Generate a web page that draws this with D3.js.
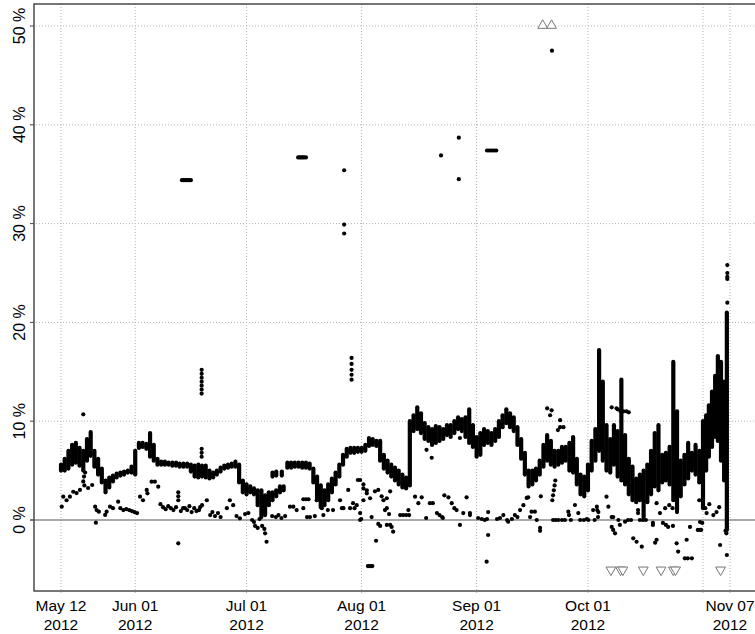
<!DOCTYPE html>
<html>
<head>
<meta charset="utf-8">
<script src="https://cdn.jsdelivr.net/npm/d3@7"></script>
<style>
  body { margin: 0; background: #fff; }
  text { font-family: "Liberation Sans", Arial, sans-serif; fill: #000; }
</style>
</head>
<body>
<svg id="chart"></svg>
<script>
// ---- data (days counted from 2012-05-12, values in %) ----
var startDay = "2012-05-12";

// dense main series, drawn as min..max per time step
var bandDay = [0,1,2,3,4,5,6,7,8,9,10,11,12,13,14,15,16,17,18,19,
  20,21,22,23,24,25,26,27,28,29,30,31,32,33,34,35,36,37,38,39,
  40,41,42,43,44,45,46,47,48,49,50,51,52,53,54,55,56,57,58,59,60,57,58,59.5,
  61,62,63,64,65,66,67,68,69,70,71,72,73,74,75,76,77,78,79,
  80,81,82,83,84,85,86,87,88,89,90,91,92,93,94,95,96,97,98,99,
  100,101,102,103,104,105,106,107,108,109,110,111,112,113,114,115,116,117,118,119,
  120,121,122,123,124,125,126,127,128,129,130,131,132,133,134,135,136,137,138,139,
  140,141,142,143,144,145,146,147,148,149,150,151,152,153,154,155,156,157,158,159,
  160,161,162,163,164,165,166,167,168,169,170,171,172,173,173.7,174.3,175,175.7,176.3,177,177.7,178.3];
var bandLo = [5.0,5.0,5.2,5.6,5.8,5.5,5.0,6.0,6.5,5.4,4.6,3.8,2.8,3.3,3.9,4.3,4.5,4.6,4.8,4.8,
  4.6,7.3,7.4,7.2,6.4,6.0,5.6,5.6,5.6,5.6,5.5,5.5,5.4,5.4,5.4,4.9,4.4,4.3,4.4,4.3,
  4.2,4.3,4.6,4.9,5.2,5.3,5.4,5.4,3.8,2.8,2.6,2.8,2.6,1.5,0.3,0.5,1.5,2.0,2.4,2.8,3.0,4.4,4.5,4.5,
  5.3,5.3,5.4,5.4,5.3,5.3,5.2,3.8,2.0,1.3,1.5,2.0,2.8,3.6,4.4,5.6,6.4,6.8,6.8,
  6.9,6.9,7.0,7.5,7.6,7.5,6.0,5.2,4.8,4.4,4.0,3.6,3.3,3.2,3.5,9.0,9.2,8.8,8.2,8.0,
  7.6,7.8,8.0,8.2,8.6,8.4,8.8,9.2,9.0,8.4,7.8,7.4,6.4,6.6,7.6,7.8,7.6,8.0,8.4,9.4,
  9.8,9.4,9.0,7.6,6.2,4.6,3.4,3.6,4.0,4.6,5.4,6.0,5.6,5.4,5.6,5.8,6.0,5.0,4.8,3.6,
  2.6,2.4,3.0,5.0,6.0,7.0,6.0,5.0,4.8,5.6,4.4,4.0,3.6,2.6,2.0,1.8,2.0,0.3,1.8,2.6,
  3.4,3.0,3.8,4.0,3.6,2.0,1.0,2.4,3.6,4.2,5.0,4.6,3.8,1.2,5.0,6.4,7.4,8.4,8.0,6.0,4.0,-1.0];
var bandHi = [5.6,6.2,7.0,7.6,7.8,7.3,7.0,8.2,8.9,7.0,6.2,5.2,4.0,4.3,4.5,4.7,4.8,4.9,5.0,5.4,
  7.0,7.8,7.8,7.7,8.8,7.6,6.2,5.9,5.9,5.8,5.8,5.8,5.7,5.7,5.7,5.6,5.5,5.6,5.5,5.5,
  5.0,4.8,5.0,5.3,5.5,5.6,5.7,5.9,5.6,4.0,3.6,3.4,3.2,3.0,3.0,2.5,2.8,2.8,3.0,3.4,3.4,4.8,4.9,4.9,
  5.8,5.8,5.8,5.8,5.8,5.8,5.7,5.2,4.4,3.5,3.0,3.6,4.2,4.8,5.6,6.6,7.2,7.3,7.3,
  7.3,7.3,7.6,8.3,8.2,8.0,8.0,6.6,6.0,5.6,5.3,5.0,4.6,4.3,10.0,10.6,11.4,10.8,9.8,9.4,
  9.2,9.5,9.4,9.2,9.6,9.6,10.0,10.4,10.2,10.4,11.2,9.6,8.4,8.8,9.2,9.0,8.8,9.2,10.0,10.6,
  11.2,10.8,10.4,9.4,8.2,6.8,5.0,5.0,5.2,6.0,7.6,8.6,8.0,7.0,7.0,7.4,7.4,7.8,8.4,6.2,
  4.6,4.4,5.6,8.0,9.2,17.2,14.0,9.6,8.2,9.6,9.0,14.2,8.6,6.2,5.4,4.2,4.6,5.0,5.6,7.0,
  8.8,9.6,6.6,6.8,7.4,16.0,11.0,6.0,6.6,7.8,6.8,7.6,7.0,10.0,10.6,11.6,13.0,14.6,16.6,16.0,14.0,21.0];

// scattered single observations
var ptDay = [0.2,0.6,1.5,2.4,3.3,4.2,5.1,6.0,6.2,6.5,6.3,7.3,8.4,9.2,9.6,10.2,9.4,11.9,12.3,13.2,
  14.0,15.4,16.0,16.8,17.6,18.4,19.1,19.8,20.5,21.3,22.1,23.1,23.3,24.4,25.3,26.2,26.8,27.5,28.2,28.9,
  29.6,30.3,31.0,31.6,31.6,31.6,31.6,32.3,32.9,33.4,34.0,34.6,35.2,35.9,36.5,37.2,37.5,38.0,39.3,40.2,
  40.8,41.5,42.3,43.0,44.7,45.5,46.4,47.3,48.2,49.6,50.5,51.5,52.0,52.3,53.0,53.5,54.2,54.8,55.0,55.4,
  56.9,57.9,58.6,59.4,60.4,61.7,62.6,63.5,65.3,65.3,66.0,66.7,66.3,67.1,68.4,68.9,70.3,70.7,71.9,73.3,
  75.2,75.7,76.1,77.4,77.9,78.7,79.1,80.0,80.6,79.7,80.6,80.6,80.9,81.5,81.5,81.5,82.4,82.4,83.3,83.7,
  84.6,84.9,85.5,86.0,85.5,86.4,86.9,87.3,87.8,88.4,87.8,88.7,89.1,89.5,88.7,87.8,91.4,92.2,93.0,93.8,
  93.6,95.4,96.3,97.2,98.4,99.4,100.2,101.3,102.0,102.7,102.9,103.3,104.4,105.3,106.0,106.6,107.5,108.4,109.3,110.2,
  110.2,112.4,113.4,114.2,114.8,115.1,115.1,114.7,117.5,118.3,119.2,120.2,82.7,83.1,83.5,83.9,98.5,99.9,107.5,
  120.5,121.5,122.3,123.0,123.7,124.6,125.5,125.9,126.4,126.8,127.7,128.2,129.1,129.1,129.3,132.6,133.3,134.0,135.0,135.8,
  136.7,136.9,137.4,138.5,139.4,139.9,140.9,141.7,142.1,143.4,143.8,144.4,144.7,147.0,147.5,148.4,148.8,148.4,148.8,149.3,
  150.2,150.6,152.0,152.8,153.6,154.2,155.1,155.5,155.5,156.0,156.5,156.8,157.6,159.5,159.5,160.1,160.5,160.5,161.4,
  132.4,132.6,132.8,133.0,133.2,131.0,131.8,132.2,133.9,134.5,134.5,135.4,148.4,149.7,150.0,150.8,151.6,152.4,153.0,
  144.5,144.8,162.8,163.9,164.8,166.0,172.0,173.5,174.4,176.0,176.6,
  162.2,163.0,163.6,164.9,165.9,166.3,168.1,168.9,170.0,168.6,169.5,171.6,172.2,172.5,172.2,172.8,173.8,175.3,176.8,178.3,178.0,178.2,
  6.0,37.9,37.9,37.9,37.9,37.9,37.9,37.9,37.9,37.9,37.9,78.3,78.3,78.3,78.3,78.3,
  178.4,178.4,178.4,178.4,178.4];
var ptVal = [1.35,2.36,2.0,2.36,2.86,2.73,3.04,3.9,4.4,4.8,3.5,3.24,3.54,1.35,1.0,0.84,-0.27,0.51,0.84,1.35,
  1.2,1.85,1.2,1.0,1.1,1.0,0.9,0.8,0.7,2.36,2.0,3.04,2.7,3.88,3.88,3.37,1.6,1.3,1.1,1.4,
  1.2,1.0,1.3,2.8,2.4,2.0,-2.36,0.9,1.2,1.2,1.0,1.4,0.8,1.2,0.9,1.0,1.3,1.5,2.0,0.5,
  0.8,0.4,0.7,0.3,1.2,2.0,1.5,0.4,0.17,0.6,0.7,0.0,-0.2,-0.6,-0.8,0.1,-0.6,-0.9,-1.35,-2.2,
  0.4,0.3,0.5,0.2,0.4,1.35,1.35,1.0,1.2,2.1,2.1,2.1,0.3,0.3,0.4,2.0,1.2,0.5,1.0,1.0,
  2.0,1.2,1.2,3.04,1.2,1.7,1.2,4.05,4.05,1.5,0.7,0.0,0.1,3.6,3.2,2.0,2.7,3.0,2.2,0.3,
  2.9,-2.1,-0.4,-0.6,3.04,2.4,2.0,1.0,1.2,0.6,-0.5,-0.5,-0.7,-1.18,2.9,2.2,0.5,0.5,0.5,0.5,
  1.0,2.36,1.7,2.3,0.2,1.7,1.7,0.7,0.5,0.3,0.2,2.5,2.3,1.7,1.2,1.0,-0.5,0.7,2.3,0.7,
  0.5,0.2,0.1,0.0,0.1,0.8,-1.52,-4.22,0.1,0.2,0.5,0.0,-4.66,-4.66,-4.66,-4.66,7.1,6.3,8.3,
  -0.17,0.1,0.5,0.3,1.0,1.5,2.23,2.3,0.3,0.84,0.84,0.0,-0.8,-1.1,2.4,0.0,0.0,0.0,0.0,0.0,
  0.84,0.5,0.0,1.52,0.7,0.0,0.0,0.1,0.0,1.0,0.0,1.35,0.3,2.36,1.35,0.3,0.3,-0.7,-1.0,-1.35,
  0.0,-0.5,-0.17,0.0,0.0,-1.85,-2.2,1.0,0.7,0.0,-2.7,0.0,0.0,-0.3,-0.5,-2.3,-2.0,1.7,0.7,
  2.0,2.5,3.0,3.5,4.0,11.3,10.6,11.1,9.1,10.1,9.4,9.4,11.4,11.3,11.2,11.0,11.0,11.0,10.9,
  1.0,0.8,1.2,1.5,1.2,0.8,2.0,1.2,1.6,0.8,1.3,
  -0.3,-0.5,-0.7,-0.6,-2.36,-3.2,-3.88,-3.88,-3.88,-2.0,-0.7,-1.0,-1.0,-1.0,-0.2,-0.3,0.7,0.5,-2.53,-3.54,-1.1,-1.35,
  10.7,15.2,14.8,14.4,14.0,13.6,13.2,12.8,7.2,6.8,6.4,16.4,15.8,15.2,14.7,14.2,
  22.0,24.4,24.6,25.0,25.8];

// high readings (plateaus and isolated spikes)
var highDay = [32.6,33.0,33.4,33.8,34.2,34.6,35.0,63.9,64.3,64.7,65.1,65.5,66.0,76.3,76.3,76.3,
  102.4,107.2,107.2,114.8,115.3,115.8,116.3,116.8,117.3,132.3];
var highVal = [34.4,34.4,34.4,34.4,34.4,34.4,34.4,36.7,36.7,36.7,36.7,36.7,36.7,35.4,29.9,29.0,
  36.9,38.7,34.5,37.4,37.4,37.4,37.4,37.4,37.4,47.5];

// readings outside the shown range (marked at the edge)
var aboveDay = [129.8,132.2];
var belowDay = [148.2,150.8,151.4,156.9,161.7,165.0,165.6,176.9];
var aboveAt = 50, belowAt = -5;

// axes
var gridDates = ["2012-05-12","2012-06-01","2012-07-01","2012-08-01","2012-09-01","2012-10-01","2012-11-01","2012-11-07"];
var tickDates = ["2012-05-12","2012-06-01","2012-07-01","2012-08-01","2012-09-01","2012-10-01","2012-11-07"];
var yTicks = [0,10,20,30,40,50];

// ---- drawing ----
var width = 755, height = 634;
var box = {left: 34, top: 4, right: 760, bottom: 591};

var parse = d3.utcParse("%Y-%m-%d");
var t0 = parse(startDay).getTime();
function dt(d) { return new Date(t0 + d * 864e5); }

var x = d3.scaleUtc()
    .domain([parse("2012-05-12"), parse("2012-11-01"), parse("2012-11-07")])
    .range([61, 703, 730]);
var y = d3.scaleLinear().domain([0, 50]).range([520, 26]);

var svg = d3.select("#chart")
    .attr("width", width)
    .attr("height", height);

svg.append("defs").append("clipPath").attr("id", "plotclip")
  .append("rect")
    .attr("x", box.left).attr("y", box.top)
    .attr("width", box.right - box.left).attr("height", box.bottom - box.top);

// grid
svg.append("g").selectAll("line")
    .data(gridDates)
    .enter().append("line")
    .attr("x1", function(d) { return x(parse(d)); })
    .attr("x2", function(d) { return x(parse(d)); })
    .attr("y1", box.top).attr("y2", box.bottom + 4)
    .attr("stroke", "#b4b4b4").attr("stroke-width", 1)
    .attr("stroke-dasharray", "1,2");

svg.append("g").selectAll("line")
    .data(yTicks.filter(function(d) { return d != 0; }))
    .enter().append("line")
    .attr("x1", box.left - 4).attr("x2", box.right)
    .attr("y1", function(d) { return y(d); })
    .attr("y2", function(d) { return y(d); })
    .attr("stroke", "#b4b4b4").attr("stroke-width", 1)
    .attr("stroke-dasharray", "1,2");

// zero line
svg.append("line")
    .attr("x1", box.left - 4).attr("x2", box.right)
    .attr("y1", y(0)).attr("y2", y(0))
    .attr("stroke", "#8c8c8c").attr("stroke-width", 1.5);

var plot = svg.append("g").attr("clip-path", "url(#plotclip)");

// dense series
plot.append("g").selectAll("line")
    .data(bandDay)
    .enter().append("line")
    .attr("x1", function(d) { return x(dt(d)); })
    .attr("x2", function(d) { return x(dt(d)); })
    .attr("y1", function(d, i) { return y(bandLo[i]); })
    .attr("y2", function(d, i) { return y(bandHi[i]); })
    .attr("stroke", "#000").attr("stroke-width", 4.2)
    .attr("stroke-linecap", "round");

// single points
plot.append("g").selectAll("circle")
    .data(ptDay.concat(highDay))
    .enter().append("circle")
    .attr("cx", function(d) { return x(dt(d)); })
    .attr("cy", function(d, i) { return y(ptVal.concat(highVal)[i]); })
    .attr("r", 2.1)
    .attr("fill", "#000");

// out of range markers
var tri = d3.symbol().type(d3.symbolTriangle).size(42);
plot.append("g").selectAll("path")
    .data(aboveDay)
    .enter().append("path")
    .attr("d", tri)
    .attr("transform", function(d) { return "translate(" + x(dt(d)) + "," + (y(aboveAt) - 0.5) + ")"; })
    .attr("fill", "#fff").attr("stroke", "#777").attr("stroke-width", 1);
plot.append("g").selectAll("path")
    .data(belowDay)
    .enter().append("path")
    .attr("d", tri)
    .attr("transform", function(d) { return "translate(" + x(dt(d)) + "," + (y(belowAt) + 0.5) + ") rotate(180)"; })
    .attr("fill", "#fff").attr("stroke", "#777").attr("stroke-width", 1);

// box
svg.append("rect")
    .attr("x", box.left).attr("y", box.top)
    .attr("width", box.right - box.left).attr("height", box.bottom - box.top)
    .attr("fill", "none").attr("stroke", "#4a4a4a").attr("stroke-width", 1.5);

// y labels
svg.append("g").selectAll("line")
    .data(yTicks)
    .enter().append("line")
    .attr("x1", box.left - 4).attr("x2", box.left)
    .attr("y1", function(d) { return y(d); }).attr("y2", function(d) { return y(d); })
    .attr("stroke", "#4a4a4a");

svg.append("g").selectAll("text")
    .data(yTicks)
    .enter().append("text")
    .attr("transform", function(d) { return "translate(25," + y(d) + ") rotate(-90)"; })
    .attr("text-anchor", "middle")
    .style("font-size", "16px")
    .text(function(d) { return d + " %"; });

// x labels
var fmtDay = d3.utcFormat("%b %d"), fmtYear = d3.utcFormat("%Y");
var xl = svg.append("g").selectAll("text")
    .data(tickDates)
    .enter().append("text")
    .attr("x", function(d) { return x(parse(d)); })
    .attr("text-anchor", "middle")
    .style("font-size", "15.5px");
xl.append("tspan")
    .attr("x", function(d) { return x(parse(d)); })
    .attr("y", 611)
    .text(function(d) { return fmtDay(parse(d)); });
xl.append("tspan")
    .attr("x", function(d) { return x(parse(d)); })
    .attr("y", 630)
    .text(function(d) { return fmtYear(parse(d)); });
</script>
</body>
</html>
